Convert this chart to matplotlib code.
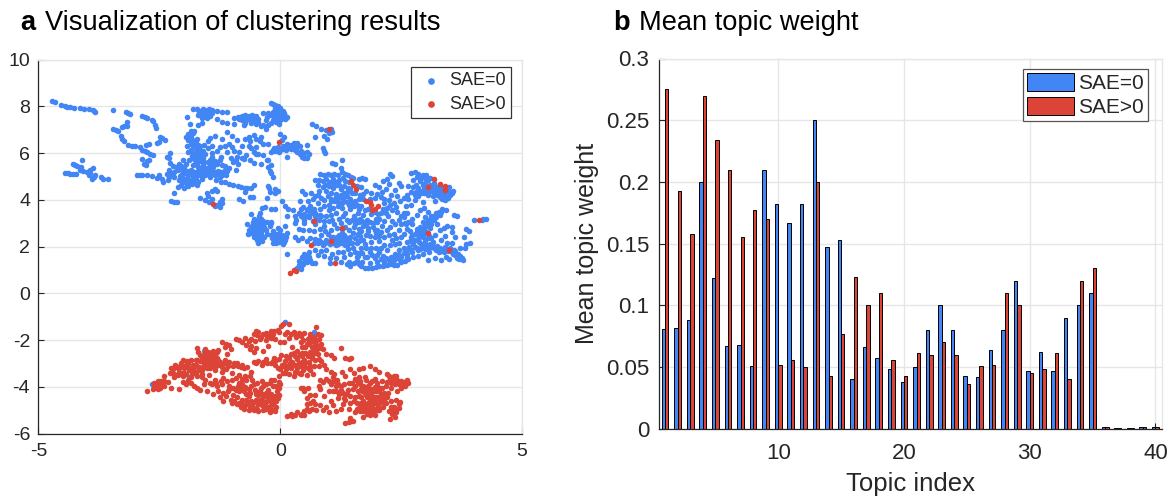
import numpy as np
import matplotlib
matplotlib.use('Agg')
import matplotlib.pyplot as plt

plt.rcParams['font.family'] = ['Liberation Sans', 'DejaVu Sans']
plt.rcParams['axes.unicode_minus'] = False

# topic weights
topics = list(range(1, 41))
weight_sae0 = [.081, .082, .088, .2, .122, .067, .068, .051, .21, .182,
               .167, .182, .25, .147, .153, .04, .066, .057, .048, .038,
               .05, .08, .1, .08, .043, .042, .064, .08, .12, .047,
               .062, .047, .09, .1, .11, .001, .0005, .0008, .001, .001]
weight_sae1 = [.275, .193, .158, .27, .234, .21, .155, .177, .17, .052,
               .056, .05, .2, .043, .077, .123, .1, .11, .056, .043,
               .061, .06, .07, .06, .036, .051, .052, .11, .1, .045,
               .048, .061, .04, .12, .13, .001, .0005, .0008, .001, .001]

# scatter points
pts_trail = [(-4.71,8.23),(-4.66,8.2),(-4.53,8.07),(-4.46,8.03),(-4.41,7.98),(-4.35,7.96),(-4.26,7.94),(-4.13,7.94),(-4.05,7.91),
    (-3.95,7.89),(-3.88,7.83),(-3.82,7.74),(-3.85,7.8),(-3.46,7.83),(-3.18,7.77),(-3.11,7.69),(-3.14,7.72),(-2.86,7.57),(-2.8,7.55),(-2.75,7.52),
    (-2.63,7.36),(-2.59,7.22),(-2.57,7.09),(-2.66,7.42),(-3.46,7.05),(-3.4,6.98),(-3.35,6.93),(-3.28,7.12),(-3.17,7.17),(-3.17,7.34),(-3.22,7.15),
    (-3.3,6.72),(-3.23,6.5),(-3.27,6.6),(-3.14,6.36),(-3.07,6.32),(-3.0,6.29),(-2.89,6.26),(-2.77,6.36),(-2.71,6.38),(-2.86,6.15),(-2.8,6.1),(-2.75,6.03),
    (-2.64,5.93),(-2.7,5.98),(-2.55,6.43),(-2.5,6.48),(-2.48,6.69),(-2.39,6.58),(-2.44,6.64),(-2.86,5.75),(-2.82,5.55),(-2.78,5.5),(-2.71,5.69),(-2.76,5.65),
    (-4.44,5.14),(-4.38,5.13),(-4.35,5.12),(-4.28,5.1),(-4.23,5.11),(-4.28,5.55),(-4.24,5.5),(-4.21,5.44),(-4.1,5.69),(-4.14,5.29),(-4.07,5.22),(-4.12,5.4),
    (-4.0,5.18),(-3.88,5.36),(-3.94,5.3),(-3.93,5.15),(-3.86,5.0),(-3.89,4.91),(-3.95,5.05),(-3.71,5.0),(-3.67,4.89),(-3.56,4.89),(-3.82,5.08),
    (-2.96,5.08),(-2.9,5.08),(-2.85,5.07),(-2.75,5.05),(-2.65,5.02),(-2.55,4.95),(-2.45,4.9),(-2.5,5.05),(-2.35,5.1),(-2.3,5.0),(-2.25,5.1),(-2.2,5.0),
    (-2.42,4.75),(-2.33,4.85),(-2.12,4.55),(-2.2,4.3),(-2.25,3.95),(-2.19,3.92),(-2.14,3.9)]
pts_left_mass = [(-2.2,5.2),(-2.15,5.4),(-2.1,5.55),(-2.05,5.45),(-2.0,5.3),(-1.95,5.15),(-1.9,5.05),(-2.0,4.95),(-2.1,4.85),(-1.95,4.75),(-2.05,4.65),(-1.9,4.6),
    (-1.85,4.85),(-1.8,5.0),(-1.75,5.2),(-1.7,5.4),(-1.8,5.5),(-1.85,5.3),(-1.75,4.9),(-1.7,4.75),(-1.65,5.05),(-1.6,5.2),(-1.55,5.05),(-1.5,5.1),(-1.45,5.0),
    (-1.4,5.15),(-1.35,5.05),(-1.3,5.1),(-1.25,5.0),(-1.2,5.05),(-1.15,5.15),(-1.1,5.25),(-1.05,5.35),(-1.15,5.45),(-1.9,6.8),(-1.85,6.7),(-1.8,6.85),(-1.9,6.55),
    (-1.85,6.4),(-1.8,6.3),(-1.85,6.15),(-1.9,6.05),(-1.75,6.2),(-1.7,6.35),(-1.65,6.3),(-1.6,6.1),(-1.55,5.95),(-1.6,5.8),(-1.65,5.65),(-1.7,5.85),(-1.75,5.6),
    (-1.6,5.5),(-1.55,5.35),(-1.5,5.6),(-1.45,5.7),(-1.4,5.85),(-1.35,5.65),(-1.3,5.55),(-1.25,5.7),(-1.2,5.5),(-1.15,5.3),(-1.4,6.0),(-1.3,6.1),(-1.45,6.65),(-1.5,6.5),
    (-1.35,6.75),(-1.2,6.6),(-1.05,6.4),(-1.0,6.25),(-0.95,6.1),(-0.85,6.05),(-0.9,5.85),(-0.8,5.8),(-0.75,5.75),(-0.7,5.9),(-0.65,6.3),(-0.55,6.05),(-0.5,5.95),(-0.45,5.95),
    (-1.72,6.6),(-1.95,6.7),(-1.78,6.95),(-1.85,6.95),(-1.92,6.3),(-1.68,6.05),(-1.58,6.35),(-1.5,6.2),(-1.42,6.3),(-1.25,6.25),(-1.15,6.3),(-1.1,6.05),(-1.02,5.8),(-0.98,5.6),
    (-0.92,5.3),(-0.88,5.55),(-1.22,5.85),(-0.92,5.7),(-2.3,5.3),(-2.28,5.58),(-2.35,5.85),(-2.28,6.0),(-2.3,5.78),(-2.22,5.45),(-1.95,5.55),(-1.88,5.7),(-2.0,5.7),(-1.98,4.5),
    (-2.02,4.75),(-1.92,4.9),(-1.82,4.7),(-1.72,4.65),(-1.62,4.9),(-1.32,4.85),(-1.22,4.78),(-1.15,4.75),(-1.05,4.7),(-0.98,4.65),(-0.88,4.6),(-0.82,4.55),(-0.72,4.5),(-0.6,4.5),
    (-0.55,4.65),(-0.72,4.35),(-0.56,4.12),(-0.62,4.12),(-0.76,3.95),(-0.85,4.05),(-0.68,4.5),(-1.35,4.45),(-1.4,4.4),(-1.52,4.3),(-1.5,4.15),(-1.42,4.05),(-1.3,4.38),
    (-1.65,4.1),(-1.55,4.0),(-1.48,3.9),(-1.35,3.72),(-1.3,3.78),(-1.25,3.92),(-1.2,3.85),(-1.25,3.7),(-1.2,4.02),
    (-1.8,7.9),(-1.72,7.88),(-1.6,7.9),(-1.55,7.85),(-1.68,7.75),(-1.6,7.75),(-1.5,7.7),(-1.55,7.6),(-1.45,7.6),(-1.3,7.8),(-1.2,7.78),(-1.1,7.75),(-1.3,7.45),(-1.2,7.35),
    (-1.1,7.3),(-1.4,7.85),(-1.62,7.6),(-1.52,7.5),(-1.92,7.55),(-1.87,7.25),(-1.9,6.7),(-1.7,7.22),(-1.62,7.3),(-0.95,7.5),(-0.85,7.45),(-0.8,7.6),(-0.75,7.5),(-0.7,7.55),
    (-0.65,7.6),(-0.6,7.55),(-0.55,7.5),(-0.5,7.6),(-0.6,7.3),(-0.5,7.25),(-0.45,7.35),(-0.4,7.15),(-0.35,7.2),(-0.3,7.05),(-0.25,7.2),(-0.35,7.7),(-0.25,7.7),(-0.15,7.75),
    (-0.1,7.85),(-0.05,8.0),(-0.15,8.1),(-0.1,8.05),(-0.18,8.14),(0.0,7.95),(0.05,7.8),(0.1,7.6),(0.15,7.55),(0.1,7.45),(0.05,7.5),(0.0,7.4),(-0.05,7.6),(-0.1,7.65),
    (-0.15,7.4),(-0.2,7.3),(-0.3,7.4),(-0.02,7.7),(0.08,7.72),(-0.1,7.52),(-0.02,7.25),(-0.75,7.22),(-0.95,7.25),(-0.88,7.55),(-0.72,7.62),(-0.72,7.3),(-0.62,7.42),(-0.45,7.45),
    (-0.72,6.62),(-0.65,6.7),(-0.55,6.78),(-0.5,6.6),(-0.42,6.5),(-0.35,6.38),(-0.4,6.68),(-0.25,6.38),(-0.62,6.5),(-1.1,6.9),(-1.0,6.75),(-0.9,6.55),(-0.78,6.3),(-0.6,6.2),
    (-0.5,6.28),(-0.28,5.7),(-0.35,5.9),(-0.55,5.58),(-0.4,5.55),(-0.62,5.7)]
pts_top_mid = [(-0.2,6.05),(-0.15,6.15),(-0.1,6.1),(-0.05,6.25),(0.0,6.15),(0.05,6.3),(0.1,6.2),(0.15,6.4),(0.2,6.25),(0.25,6.35),(0.3,6.3),(0.35,6.45),(0.4,6.3),(0.3,6.15),
    (0.35,6.05),(0.4,5.95),(0.45,5.85),(0.5,5.8),(0.55,5.8),(0.5,6.0),(0.55,6.05),(0.6,5.95),(0.55,6.35),(0.15,5.85),(0.0,6.8),(0.08,6.7),(0.03,6.55),
    (-0.25,5.7),(-0.2,5.5),(-0.25,5.4),(-0.22,5.25),(-0.2,5.15),(-0.15,5.0),(-0.25,4.6),(-0.22,4.35),(-0.1,4.3),(-0.27,4.1),(-0.05,4.4),(-0.1,4.45),(-0.24,4.5),
    (0.65,7.25),(0.75,7.15),(0.85,7.05),(0.95,7.0),(1.05,7.02),(1.08,6.9),(1.0,6.88),(0.9,6.75),(0.72,6.7),(0.97,6.6),(0.9,6.1),(0.88,6.2),(0.92,6.0)]
pts_blob = [(-0.68,2.95),(-0.65,2.7),(-0.67,2.55),(-0.6,3.4),(-0.55,3.2),(-0.5,3.0),(-0.5,2.75),(-0.55,2.5),(-0.48,2.3),(-0.45,2.15),(-0.42,2.8),(-0.4,2.55),(-0.4,3.2),(-0.35,2.95),
    (-0.33,2.4),(-0.3,2.7),(-0.58,2.9),(-0.52,2.62),(-0.47,2.45),(-0.43,3.3),(-0.38,2.25),(-0.28,3.05),(-0.42,3.45),(-0.38,3.65),(-0.32,3.7),(-0.55,2.4),(-0.46,2.9),
    (-0.2,2.5),(-0.15,2.65),(-0.1,2.45),(-0.12,2.25),(-0.05,2.35),(-0.02,2.55),(0.03,2.25),(0.08,2.45),(0.05,2.1),(-0.08,2.15),(-0.16,2.35),(0.1,2.3),(0.14,2.6),(-0.05,2.8),(0.1,2.88),
    (0.0,2.7),(-0.22,2.88),(-0.18,3.0),(-0.2,3.05),(-0.18,3.6),(-0.1,3.62),(0.03,3.95),(0.1,3.75),(0.17,3.6),(0.27,3.55),(0.3,3.3),(0.15,3.3),(0.3,2.4),(0.37,2.3),(0.45,2.35),(0.15,1.7)]
pts_main = [(.82,5.1),(.9,5.05),(.98,5.1),(1.05,5.08),(1.12,5.12),(1.2,5.05),(1.27,5.2),(1.33,5.1),(1.4,5.05),(1.47,5.0),(1.5,4.95),(1.7,4.95),(1.75,4.9),(1.62,4.9),
    (1.07,5.58),(1.14,5.55),(1.27,5.72),(1.25,5.36),(.8,4.85),(.88,4.8),(.95,4.9),(1.0,4.75),(1.1,4.9),(1.15,4.75),(1.22,4.85),(1.3,4.95),(1.35,4.8),(1.42,4.75),
    (1.0,4.6),(.95,4.4),(1.1,4.5),(1.18,4.62),(1.25,4.45),(1.32,4.6),(1.4,4.5),(1.48,4.3),(1.05,4.3),(1.15,4.25),(1.25,4.2),(1.32,4.3),(.46,4.37),(.52,4.25),(.64,4.3),(.71,4.15),(.85,4.1),
    (.9,4.0),(.98,4.15),(1.05,4.05),(1.12,3.95),(1.2,4.1),(1.3,4.02),(1.38,3.9),(1.45,4.05),(1.55,3.95),(1.65,4.2),(1.72,4.25),(1.78,4.4),(1.88,4.3),(1.95,4.65),(2.05,4.55),(2.1,4.35),(2.0,4.25),
    (2.15,4.05),(2.25,4.0),(2.3,4.2),(2.25,4.7),(1.85,4.05),(2.35,3.85),(2.4,3.7),(2.32,3.55),(2.2,3.65),(2.42,3.5),(2.55,3.45),(.4,3.95),(.48,3.7),(.55,3.55),(.62,3.75),(.7,3.6),(.78,3.85),
    (.42,3.3),(.5,3.4),(.6,3.25),(.68,3.45),(.75,3.2),(.82,3.35),(.9,3.1),(1.0,3.55),(1.1,3.65),(1.2,3.75),(1.28,3.65),(1.35,3.45),(1.45,3.6),(1.52,3.3),(1.6,3.45),(1.65,3.2),(1.72,3.35),
    (1.8,3.15),(1.88,3.4),(1.98,3.2),(2.08,3.45),(2.15,3.1),(2.22,3.3),(.3,3.0),(.5,3.02),(.72,2.95),(.9,2.9),(1.0,3.1),(1.12,2.95),(1.25,3.0),(1.35,2.85),(1.42,3.05),(1.55,2.95),(1.62,2.75),
    (1.72,2.9),(1.82,2.65),(1.92,2.85),(2.0,2.7),(2.1,2.9),(2.2,2.7),(2.28,2.85),(2.35,2.55),(2.5,2.95),(2.62,2.75),(2.45,3.15),(2.65,3.05),(2.72,3.2),(.62,2.35),(.7,2.15),(.8,2.3),
    (.88,2.05),(.95,2.3),(1.02,2.1),(1.1,2.4),(1.18,2.25),(1.22,2.5),(1.28,2.15),(1.35,2.4),(1.42,2.3),(1.5,2.6),(1.58,2.15),(1.65,2.45),(1.72,2.3),(1.78,2.5),(1.88,2.2),(1.95,2.4),(2.05,2.25),
    (1.15,2.3),(1.2,2.1),(1.3,2.35),(1.38,2.2),(.55,2.25),(.5,1.7),(.45,1.55),(.42,1.3),(.35,1.1),(.38,1.2),(.52,1.45),(.6,1.75),(.65,1.3),(.72,1.3),(.6,1.55),(.85,1.8),(.9,1.6),(1.02,1.5),
    (1.03,1.3),(1.15,1.5),(1.2,1.78),(1.3,1.78),(1.45,1.7),(1.5,1.95),(1.42,1.35),(1.45,1.15),(1.52,1.3),(1.58,1.55),(1.62,1.25),(1.55,1.75),(1.68,1.15),(1.75,1.1),(1.82,1.08),(1.9,1.1),
    (1.98,1.12),(2.05,1.15),(2.12,1.15),(2.2,1.2),(2.28,1.25),(2.35,1.2),(2.42,1.22),(2.5,1.32),(2.58,1.4),(2.65,1.45),(2.75,1.55),(2.85,1.6),(2.95,1.7),(1.75,1.55),(1.85,1.75),(1.95,1.5),
    (2.05,1.75),(2.12,1.6),(2.2,1.85),(2.3,1.55),(2.38,1.7),(2.45,1.85),(2.5,1.55),(2.55,1.95),(2.62,1.7),(2.7,1.85),(2.78,2.0),(2.85,1.85),(2.92,2.1),(3.0,1.9),(3.08,1.75),(3.15,2.0),
    (3.22,1.85),(3.3,1.95),(3.38,1.75),(3.45,1.9),(3.55,1.75),(3.62,1.62),(3.7,1.48),(3.78,1.42),(3.6,1.85),(3.72,1.95),(3.65,1.52),(3.05,1.42),(3.2,1.5),(3.32,1.42),(3.42,1.55),(3.5,1.48),
    (3.85,2.1),(3.92,2.15),(3.82,1.95),(3.8,2.4),(3.9,2.65),(3.84,2.75),(2.62,2.2),(2.7,2.4),(2.78,2.3),(2.85,2.5),(2.92,2.65),(2.82,2.75),(2.9,2.85),(2.98,2.55),(3.0,2.95),(3.05,3.15),
    (2.95,3.05),(3.1,2.8),(3.12,3.3),(3.18,3.15),(3.22,3.45),(3.3,3.35),(3.35,3.6),(3.42,3.55),(3.2,2.5),(3.32,2.3),(3.4,2.45),(3.55,2.15),(3.05,2.35),(3.15,2.2),(3.45,2.15),(2.55,2.55),
    (3.05,3.5),(3.0,3.25),(3.6,3.35),(3.66,3.3),(2.95,3.9),(3.2,3.95),(2.6,3.75),(2.7,3.8),(2.55,3.25),
    (2.7,5.15),(2.78,5.18),(2.85,5.12),(2.95,5.08),(3.02,5.05),(3.1,4.95),(2.75,4.85),(2.65,4.6),(2.8,4.65),(2.7,4.35),(2.78,4.2),(2.9,4.4),(2.98,4.3),(3.05,4.2),(3.12,4.45),(3.2,4.3),
    (3.25,4.55),(3.3,4.35),(3.38,4.25),(3.45,4.5),(3.52,4.35),(3.58,4.4),(3.52,4.2),(3.42,4.05),(3.48,4.1),(3.3,4.6),(3.1,4.65),(2.95,4.65),(3.18,4.72),(3.05,4.85),(2.62,4.2),(2.65,4.02),
    (2.78,3.98),(2.85,4.15),(3.15,4.15),(2.45,4.72),(2.32,5.02),(2.28,5.1),(2.5,4.6),(2.95,5.02),(3.4,4.0),(3.5,4.55)]
# second pass over the dense parts of the upper cloud
pts_dense_sae0 = [(-2.12,5.3),(-2.03,5.1),(-1.98,5.42),(-1.92,5.25),(-1.87,5.12),(-1.82,5.25),(-1.78,5.12),(-1.72,5.08),(-1.68,5.28),(-1.62,5.35),(-1.58,5.08),(-1.52,5.22),(-1.47,5.15),(-1.42,5.28),(-1.35,5.2),
    (-1.28,5.22),(-1.22,5.18),(-1.12,5.05),(-2.08,5.02),(-1.98,4.85),(-1.88,4.75),(-1.78,4.8),(-1.92,4.68),(-1.82,6.05),(-1.75,5.95),(-1.72,6.12),(-1.65,5.92),(-1.78,6.5),(-1.82,6.58),(-1.75,6.42),(-1.68,6.2),(-1.62,5.75),
    (-1.58,5.62),(-1.48,5.42),(-1.42,5.52),(-1.38,5.42),(-1.78,5.75),(-1.83,5.88),(-1.72,5.5),(-1.68,5.15),(-1.55,7.78),(-1.65,7.82),(-1.7,7.65),(-1.62,7.5),(-1.5,7.82),(-1.48,7.9),(-1.58,7.68),(-1.42,7.72),
    (-0.1,7.95),(-0.02,7.85),(0.02,7.72),(0.08,7.62),(-0.05,7.42),(0.02,7.55),(-0.12,7.78),(-0.2,7.62),(-0.28,7.55),(0.12,7.52),(-0.08,7.32),(-0.68,7.45),(-0.58,7.65),(-0.52,7.42),(-0.78,7.42),
    (-0.12,6.2),(-0.02,6.05),(0.05,6.18),(0.12,6.12),(0.18,6.35),(0.22,6.18),(0.28,6.42),(0.32,6.22),(0.42,6.08),(0.48,5.9),
    (-0.6,2.85),(-0.56,3.05),(-0.62,2.6),(-0.58,2.65),(-0.52,2.85),(-0.47,2.65),(-0.42,2.35),(-0.38,2.7),(-0.42,3.05),(-0.36,3.1),(-0.48,3.15),(-0.33,2.85),(-0.28,2.55),(-0.46,2.55),
    (-0.15,2.45),(-0.08,2.55),(-0.1,2.35),(-0.02,2.2),(0.0,2.4),(0.04,2.5),(0.12,2.42),(-0.14,2.15),(0.02,2.32),(-0.06,2.25),(0.08,2.2),
    (.85,3.3),(.75,3.35),(.68,3.1),(.62,3.45),(.55,3.3),(.48,3.25),(.58,3.6),(.65,3.6),(.72,3.45),(.8,3.15),(.42,3.6),(.5,3.15),
    (1.05,3.95),(1.15,4.12),(1.2,3.9),(1.28,3.85),(1.32,4.12),(1.38,4.15),(1.42,3.78),(1.48,3.85),(1.52,3.72),(1.58,3.8),(1.62,3.62),(1.68,3.72),(1.75,3.55),(1.82,3.6),(1.48,3.15),(1.55,3.2),(1.62,3.05),(1.7,3.1),
    (1.78,2.95),(1.85,3.05),(1.92,3.0),(2.0,3.05),(2.05,3.2),(1.95,3.5),(2.02,3.4),(2.12,3.6),(2.18,3.45),(1.6,2.55),(1.52,2.85),(1.42,2.7),(1.68,2.65),(1.85,2.45),(1.98,2.6),(2.05,2.45),
    (1.08,2.2),(1.12,2.35),(1.18,2.4),(1.22,2.28),(1.25,2.4),(1.3,2.22),(1.32,2.48),(1.4,2.12),(1.45,2.42),(1.1,2.15),(1.28,2.6),(1.05,2.4),(.98,2.2),(.92,2.15),(.85,2.2),(.78,2.15),(.72,2.32),
    (.55,1.55),(.5,1.35),(.45,1.2),(.42,1.05),(.48,1.25),(.55,1.35),(.38,1.38),(.58,1.65),(.62,1.42),(.32,1.05),
    (2.6,1.85),(2.66,2.0),(2.72,1.75),(2.75,2.1),(2.82,1.95),(2.88,2.2),(2.9,1.9),(2.95,2.0),(3.02,2.05),(3.08,1.95),(3.1,2.1),(3.18,1.92),(3.25,2.02),(3.28,1.78),(3.35,1.85),(3.4,2.0),(3.48,1.82),(3.52,1.95),(3.58,1.68),
    (3.62,1.8),(3.68,1.7),(3.72,1.58),(3.76,1.5),(2.4,1.5),(2.45,1.65),(2.55,1.72),(2.35,1.42),(2.3,1.35),(2.48,1.42),(2.62,1.55),
    (2.68,2.25),(2.72,2.5),(2.78,2.55),(2.82,2.62),(2.86,2.4),(2.9,2.5),(2.92,2.8),(2.95,2.72),(2.98,2.85),(3.0,2.68),(3.02,3.0),(3.05,2.9),(3.08,3.05),(3.1,3.12),(3.12,2.95),(3.15,3.22),(3.18,3.32),(3.22,3.25),
    (3.25,3.38),(3.28,3.5),(3.32,3.48),(2.95,2.4),(3.0,2.25),(3.08,2.45),(3.12,2.35),(2.85,2.3),
    (2.8,4.35),(2.85,4.5),(2.92,4.28),(2.98,4.45),(3.02,4.35),(3.08,4.35),(3.1,4.55),(3.15,4.38),(3.18,4.5),(3.22,4.42),(3.25,4.22),(3.28,4.45),(3.35,4.5),(3.38,4.38),(3.42,4.3),(3.42,4.42),(3.48,4.4),(3.48,4.25),(3.55,4.3),(3.3,4.12),
    (3.35,4.05),(2.88,4.28),(2.75,4.55),(2.9,4.8),(3.0,4.95),(3.0,4.72),(2.82,5.0),(2.92,4.92),(3.25,4.38),(3.4,4.15)]
# third pass, the looser stretches of the lower right cloud
pts_fill_sae0 = [(.58,3.95),(.68,4.05),(.78,4.2),(.72,3.3),(.38,3.45),(.32,3.15),(.95,3.3),(1.05,3.35),(1.15,3.45),(1.22,3.2),(1.3,3.3),(1.38,3.15),(1.08,3.15),(1.18,2.8),(1.28,2.75),(1.05,2.7),(.92,2.65),(.82,2.75),(.7,2.65),(.6,2.7),(.48,2.7),
    (.38,2.75),(1.0,3.8),(.9,3.75),(.82,3.6),(1.45,4.45),(1.55,4.3),(1.62,4.05),(1.72,4.05),(1.95,4.1),(2.08,4.12),(2.15,3.88),(2.28,3.78),(1.82,2.8),(1.95,2.72),(2.08,2.62),(2.15,2.4),(2.25,2.5),(2.32,2.3),(2.4,2.35),(2.45,2.15),(2.5,2.4),(2.38,2.1),
    (2.28,2.05),(2.15,2.05),(2.08,1.95),(1.98,1.95),(1.88,1.95),(1.78,1.95),(1.68,1.95),(1.62,1.72),(1.7,1.72),(1.8,1.55),(1.9,1.62),(2.0,1.62),(2.08,1.45),(2.18,1.5),(2.25,1.42),(2.15,1.32),(2.0,1.32),(1.85,1.3),(1.7,1.35),(1.58,1.4),
    (2.6,2.95),(2.72,2.95),(2.68,2.65),(2.58,3.0),(2.45,2.72),(2.38,2.95),(2.32,3.1),(2.5,3.3),(2.62,3.45),(3.3,2.7),(3.38,2.8),(3.45,2.9),(3.55,2.62),(3.62,2.4),(3.55,2.85),(3.25,2.95),(.78,1.65),(.72,1.85),(.95,1.85),(1.08,1.7),(.85,2.5),(.98,2.55),
    (1.15,2.05),(1.35,2.05),(1.48,2.15),(1.62,2.25),(1.75,2.12),(1.55,2.38),(1.4,1.9),(1.32,1.55),(1.25,1.35),(1.38,1.25),(1.6,1.6),(2.9,3.55),(2.82,3.35),(2.98,3.65),(2.48,3.95),(2.55,4.08),(2.42,4.15),(2.38,4.42),(2.18,4.45),(2.2,4.9),(2.12,4.8),
    (.72,4.85),(.78,4.62),(.88,4.55),(.8,4.4),(.92,4.65),(1.08,4.7),(1.22,4.65),(1.38,4.35),(1.58,4.6),(1.68,4.55)]
pts_sae1_top = [(1.01,7.03),(-0.02,6.49),(-1.39,3.83),(1.46,4.81),(1.51,4.64),(1.56,4.47),(1.78,3.97),(1.86,3.9),(1.88,3.77),(2.03,3.75),(1.89,3.58),(1.96,3.6),
    (3.05,4.54),(3.17,4.88),(3.3,4.7),(3.4,4.61),(3.4,4.44),(0.69,3.1),(1.28,2.81),(1.06,2.23),(0.63,2.06),(0.29,0.98),(0.2,0.89),(0.32,0.95),(1.14,1.28),(3.05,2.59),(3.5,1.87),(4.12,3.14)]
pts_sae0_low = [(0.09,-1.21),(0.7,-1.65),(1.56,-3.73),(-1.57,-2.45),(-1.88,-3.57),(-2.65,-3.86)]
pts_sae0_far = [(4.0,3.15),(4.2,3.2),(4.25,3.2),(4.18,3.15)]
pts_sae1_low = [(-2.76,-4.18),(-2.64,-4.11),(-2.53,-4.09),(-2.5,-3.9),(-2.6,-3.83),(-2.57,-3.97),(-2.46,-3.76),(-2.41,-3.55),(-2.32,-3.8),(-2.25,-4.04),(-2.09,-4.09),(-2.41,-3.97),(-2.55,-4.03),
    (-2.28,-3.4),(-2.22,-3.25),(-2.15,-3.1),(-2.1,-3.35),(-2.05,-3.0),(-2.02,-3.55),(-1.98,-3.2),(-1.92,-2.9),(-1.88,-3.3),(-1.85,-3.6),(-1.8,-3.05),(-1.75,-2.85),(-1.72,-2.35),(-1.68,-3.3),
    (-1.65,-2.65),(-1.6,-2.95),(-1.55,-2.55),(-1.52,-3.2),(-1.48,-2.8),(-1.45,-2.6),(-1.42,-3.0),(-1.38,-2.45),(-1.35,-3.3),(-1.3,-2.75),(-1.28,-2.42),(-1.25,-2.95),(-1.2,-3.15),(-1.62,-3.45),
    (-1.72,-3.55),(-1.95,-3.45),(-2.2,-3.45),(-2.12,-3.2),(-1.78,-3.32),(-1.52,-2.65),(-1.4,-2.75),(-1.42,-2.52),(-1.32,-3.1),(-1.55,-3.1),(-1.1,-2.6),(-1.2,-3.35),
    (-1.15,-2.85),(-1.05,-2.95),(-0.98,-3.1),(-0.9,-3.0),(-0.82,-3.15),(-0.75,-3.2),(-0.68,-3.15),(-0.6,-3.35),(-1.12,-3.25),(-1.0,-3.4),
    (-1.18,-3.62),(-1.1,-3.75),(-1.2,-3.9),(-1.05,-3.95),(-1.0,-3.7),(-0.92,-3.62),(-0.85,-3.85),(-0.78,-3.65),(-0.72,-3.55),(-1.85,-3.85),(-1.78,-3.95),(-1.72,-4.05),(-1.65,-4.15),(-1.58,-3.9),(-1.52,-4.2),
    (-1.45,-3.85),(-1.38,-4.3),(-1.3,-3.95),(-1.25,-4.45),(-1.35,-3.7),(-1.18,-4.6),(-1.08,-4.2),(-1.0,-4.7),(-0.98,-4.05),(-0.9,-4.45),(-0.82,-4.85),(-0.75,-4.2),(-0.7,-4.55),(-0.62,-4.9),(-0.55,-3.9),
    (-0.5,-4.3),(-0.45,-4.75),(-0.4,-4.05),(-0.35,-4.45),(-0.3,-4.95),(-0.25,-4.15),(-0.2,-4.6),(-0.15,-3.95),(-0.1,-4.4),(-0.08,-4.85),(-0.03,-4.05),(0.0,-3.9),(-0.65,-4.1),(-0.55,-4.65),(-0.45,-4.35),
    (-0.38,-3.75),(-0.3,-3.9),(-0.22,-3.85),(-0.12,-3.7),(-0.06,-4.2),(-0.6,-3.95),(-0.85,-4.2),(-0.8,-4.55),(-0.95,-4.6),(-0.72,-4.8),(-0.5,-4.9),(-0.38,-4.8),(-0.28,-4.6),(-0.18,-4.95),(-0.1,-5.05),
    (-0.35,-5.0),(-0.55,-5.0),(-0.65,-4.4),(-0.2,-4.3),(-0.12,-4.65),(-0.42,-4.55),
    (-1.2,-2.1),(-1.12,-2.15),(-1.05,-2.2),(-1.15,-2.3),(-1.02,-2.4),(-0.92,-1.95),(-0.85,-2.0),(-0.8,-2.1),(-0.72,-1.9),(-0.65,-2.05),(-0.6,-2.25),(-0.55,-1.75),(-0.5,-2.35),(-0.45,-1.65),
    (-0.4,-1.85),(-0.35,-2.45),(-0.3,-1.7),(-0.22,-1.7),(-0.15,-1.75),(-0.1,-1.95),(-0.05,-1.55),(0.0,-2.1),(0.02,-1.4),(0.05,-1.3),(0.15,-1.65),(0.18,-1.9),(0.18,-1.32),(0.28,-1.65),(0.32,-1.85),(0.38,-1.7),(0.42,-2.1),
    (0.5,-1.7),(0.55,-2.15),(0.6,-1.9),(0.65,-2.3),(0.7,-1.85),(0.75,-2.05),(0.73,-1.45),(0.8,-2.35),(0.85,-1.8),(0.85,-2.15),(0.78,-2.6),(0.88,-2.4),(0.95,-2.6),(1.05,-2.65),(1.12,-2.78),(1.25,-2.35),
    (1.35,-2.78),(1.42,-2.8),(1.47,-2.78),(-0.7,-2.2),(-0.62,-2.4),(-0.55,-2.5),(0.08,-2.1),(0.25,-2.3),(0.35,-2.45),(0.45,-2.55),(0.55,-2.6),
    (-0.55,-2.95),(-0.45,-2.9),(-0.38,-3.05),(-0.3,-2.8),(-0.2,-3.0),(-0.12,-2.75),(-0.02,-2.8),(0.03,-3.05),(0.12,-2.7),(0.2,-3.0),(0.28,-2.55),(0.35,-2.8),(0.42,-3.1),(0.5,-2.85),(0.58,-3.2),(0.65,-2.75),
    (0.7,-3.1),(0.75,-2.45),(0.62,-2.5),(0.8,-3.1),(0.68,-3.45),(0.55,-3.5),(0.42,-3.45),(0.3,-3.35),(0.28,-3.55),(0.12,-3.25),(0.18,-3.45),(0.05,-3.4),(-0.02,-3.55),(-0.05,-3.2),(0.35,-3.2),(0.5,-3.1),
    (0.85,-2.9),(0.9,-3.05),(0.95,-3.25),(0.25,-2.95),(0.45,-2.7),(0.6,-2.95),
    (1.05,-3.35),(1.12,-3.45),(1.18,-3.7),(1.28,-3.35),(1.35,-3.55),(1.45,-3.25),(1.52,-3.4),(1.62,-3.25),(1.72,-3.2),(1.85,-3.1),(1.95,-3.25),(2.05,-3.35),(2.2,-3.45),(2.35,-3.55),(2.35,-3.7),(2.5,-3.75),
    (2.62,-3.7),(2.65,-3.85),(2.58,-3.95),(2.5,-4.05),(2.42,-4.2),(2.38,-3.9),(2.3,-4.05),(2.22,-4.25),(2.18,-3.95),(2.1,-4.4),(0.5,-4.2),(0.62,-4.35),(0.58,-4.05),(0.72,-4.35),(0.68,-4.6),(0.62,-4.7),
    (0.55,-4.95),(0.5,-5.2),(0.42,-5.2),(0.3,-5.2),(0.22,-5.15),(0.15,-5.25),(0.82,-4.1),(0.82,-4.8),(0.95,-4.85),(0.88,-5.0),(1.0,-5.1),(0.9,-4.4),(1.0,-4.2),(0.75,-5.0),
    (0.8,-3.95),(0.82,-3.72),(0.88,-3.8),(0.95,-3.65),(1.0,-3.75),(1.05,-3.9),(1.1,-4.2),(1.15,-3.95),(1.2,-4.5),(1.25,-4.15),(1.32,-3.9),(1.3,-4.75),(1.38,-4.3),(1.42,-3.85),(1.45,-4.7),(1.5,-4.1),
    (1.55,-4.45),(1.6,-3.8),(1.62,-4.75),(1.68,-4.1),(1.72,-4.95),(1.75,-3.6),(1.8,-4.45),(1.85,-3.85),(1.88,-5.1),(1.92,-4.2),(1.95,-3.65),(1.98,-4.7),(2.02,-4.0),(2.05,-5.0),(2.1,-3.75),(2.12,-4.85),
    (2.15,-4.55),(2.2,-3.8),(2.25,-5.05),(2.3,-4.6),(2.35,-4.85),(2.4,-5.1),(2.38,-5.3),(2.28,-5.4),(2.45,-4.9),(2.4,-4.55),(1.75,-4.25),(1.82,-4.7),(1.9,-4.9),(1.95,-5.2),(1.8,-5.15),(1.72,-5.3),(1.65,-5.05),
    (1.72,-3.95),(1.88,-4.55),(1.78,-3.7),(1.68,-4.45),(2.0,-4.45),(2.08,-4.3),(2.02,-4.85),(1.92,-4.6),(1.85,-5.2),(1.58,-4.95),(1.55,-5.1),(1.42,-5.5),(1.35,-5.55),(1.5,-5.45),(1.45,-5.35),(1.42,-4.95),
    (1.35,-4.55),(1.25,-4.95),(1.15,-5.05),(1.05,-4.6),(1.1,-4.8),(-1.95,-3.9),(-2.02,-3.8),(-1.9,-3.72)]
# second pass over the solid parts of the lower cloud
pts_dense_sae1 = [(-2.55,-3.88),(-2.48,-4.05),(-2.45,-3.85),(-2.52,-3.75),(-2.4,-3.75),(-2.6,-4.0),(-2.25,-3.2),(-2.2,-3.6),(-2.18,-3.05),(-2.12,-3.5),(-2.08,-3.15),(-2.05,-3.4),(-2.0,-2.85),(-1.98,-3.4),(-1.95,-3.05),
    (-1.9,-3.15),(-1.85,-2.85),(-1.82,-3.45),(-1.8,-3.2),(-1.75,-3.05),(-1.72,-2.85),(-1.7,-3.15),(-1.65,-2.9),(-1.62,-2.75),(-1.6,-3.15),(-1.58,-2.7),(-1.55,-2.85),(-1.52,-2.95),(-1.5,-2.5),(-1.48,-3.05),(-1.45,-2.85),(-1.42,-2.75),
    (-1.4,-2.6),(-1.38,-2.9),(-1.35,-2.65),(-1.33,-3.0),(-1.3,-2.5),(-1.28,-2.85),(-1.62,-3.3),(-1.68,-3.15),(-1.9,-3.0),(-2.0,-3.15),(-1.75,-3.4),(-1.45,-3.2),(-1.38,-3.15),(-1.7,-2.5),(-1.55,-2.4),(-1.25,-3.05),(-1.15,-3.0),(-1.08,-3.1),
    (-0.95,-3.0),(-0.88,-3.12),(-0.78,-3.05),(-1.62,-3.6),(-1.55,-3.7),(-1.48,-3.5),(-1.42,-3.9),(-1.32,-3.85),(-1.22,-3.75),(-1.28,-4.2),(-1.18,-4.25),(-1.12,-4.4),(-1.05,-4.1),(-0.98,-4.35),(-0.92,-4.15),(-0.88,-3.95),(-0.82,-4.05),
    (-0.78,-3.9),(-0.72,-4.0),(-0.7,-4.3),(-0.62,-4.25),(-0.6,-4.6),(-0.58,-4.8),(-0.52,-4.15),(-0.5,-4.55),(-0.48,-4.95),(-0.42,-4.2),(-0.38,-4.3),(-0.35,-4.65),(-0.32,-4.8),(-0.3,-4.25),(-0.25,-4.45),(-0.25,-4.85),(-0.2,-4.8),(-0.15,-4.5),
    (-0.15,-4.75),(-0.12,-5.0),(-0.08,-4.6),(-0.05,-4.5),(-0.02,-4.35),(-0.85,-4.7),(-0.9,-4.75),(-0.78,-4.75),(-0.68,-4.72),(-1.02,-4.55),(-0.75,-4.95),(-0.65,-5.0),(-0.45,-5.02),(-0.22,-5.08),(-0.02,-3.8),(-0.2,-3.7),(-0.08,-3.95),(-0.35,-3.95),
    (-0.48,-3.85),(-0.58,-3.72),(-0.7,-3.7),(-0.62,-3.55),(-0.85,-3.5),
    (-0.02,-1.65),(-0.12,-1.62),(-0.2,-1.62),(-0.28,-1.82),(-0.35,-1.72),(-0.42,-1.95),(-0.48,-1.8),(-0.52,-2.02),(-0.5,-1.6),(-0.6,-1.95),(-0.3,-2.0),(-0.18,-1.9),(-0.25,-2.25),(0.1,-1.75),(0.22,-1.72),(0.3,-1.75),(0.42,-1.82),(0.48,-2.0),
    (0.58,-1.95),(0.62,-1.75),(0.68,-2.05),(0.72,-2.15),(0.65,-2.05),(0.75,-2.2),(0.8,-1.95),(0.7,-2.4),(0.72,-2.0),(0.78,-1.75),(0.6,-2.18),(0.52,-2.3),(0.45,-2.3),(0.4,-2.65),(0.3,-2.7),(0.22,-2.6),(0.18,-2.75),(0.1,-2.9),(0.02,-2.65),
    (0.08,-3.1),(0.15,-3.1),(0.22,-3.2),(0.3,-3.05),(0.38,-3.0),(0.45,-2.95),(0.52,-3.0),(0.62,-3.1),(0.62,-3.3),(0.48,-3.3),(0.38,-3.4),(0.22,-3.0),(0.1,-3.4),(0.0,-3.25),(0.72,-2.85),(0.8,-2.8),(0.58,-2.7),(0.68,-2.6),(0.52,-2.55),
    (-0.28,-3.0),(-0.35,-2.95),(-0.5,-3.0),(-0.1,-3.05),(-0.15,-2.9),(-0.08,-2.85),
    (1.55,-3.95),(1.6,-4.2),(1.62,-4.4),(1.65,-3.9),(1.7,-4.2),(1.72,-4.6),(1.75,-4.0),(1.75,-4.75),(1.78,-4.35),(1.8,-4.15),(1.8,-4.85),(1.82,-3.95),(1.85,-4.3),(1.85,-4.55),(1.85,-4.85),(1.88,-4.1),(1.9,-3.75),(1.9,-4.4),(1.92,-4.75),(1.95,-4.0),
    (1.95,-4.45),(1.98,-4.2),(2.0,-3.85),(2.0,-4.6),(2.02,-5.0),(2.05,-4.2),(2.05,-4.7),(2.08,-4.55),(2.1,-4.05),(2.12,-4.65),(2.15,-4.25),(2.18,-4.7),(2.2,-4.45),(1.68,-4.7),(1.7,-4.85),(1.62,-4.95),(1.72,-5.05),(1.85,-5.05),(1.95,-5.05),
    (1.98,-4.95),(1.78,-5.05),(1.88,-4.95),(1.58,-4.7),(1.52,-4.6),(1.45,-4.4),(1.4,-4.15),(1.3,-4.25),(1.22,-4.3),(1.15,-4.2),(1.25,-3.95),(1.32,-4.5),(1.12,-3.75),(1.1,-3.6),(1.2,-3.9),(1.55,-3.65),(1.62,-3.6),(1.48,-3.85),(1.65,-3.75),
    (2.25,-3.55),(2.3,-3.85),(2.42,-3.72),(2.45,-3.9),(2.5,-3.9),(2.55,-3.78),(2.58,-3.8),(2.28,-3.65),(2.4,-3.55),(2.38,-5.0),(2.4,-4.95),(2.35,-5.0),(2.3,-4.85),(2.32,-5.15),(2.45,-4.75),(2.48,-4.65),
    (0.72,-4.75),(0.65,-4.95),(0.6,-5.05),(0.55,-4.75),(0.5,-5.05),(0.45,-5.15),(0.35,-5.1),(0.25,-5.25),(0.55,-4.5),(0.42,-4.05),(0.48,-4.05)]

blue_pts = np.array(pts_trail + pts_left_mass + pts_top_mid + pts_blob + pts_main + pts_dense_sae0 + pts_fill_sae0 + pts_sae0_low + pts_sae0_far)
red_pts = np.array(pts_sae1_top + pts_sae1_low + pts_dense_sae1)

BLUE = '#4285F4'
RED = '#DB4437'
TXT = '#262626'
W, H = 1169, 497

fig = plt.figure(figsize=(W / 100, H / 100), dpi=100, facecolor='white')


def new_axes(x0, x1, y0, y1):
    # pixel box -> figure fraction
    ax = fig.add_axes([x0 / W, 1 - y1 / H, (x1 - x0) / W, (y1 - y0) / H])
    ax.set_axisbelow(True)
    ax.grid(True, color='#e6e6e6', lw=1.0)
    for s in ['left', 'bottom']:
        ax.spines[s].set_color('#262626')
        ax.spines[s].set_linewidth(0.9)
    for s in ['top', 'right']:
        ax.spines[s].set_color('#e6e6e6')
        ax.spines[s].set_linewidth(1.0)
    ax.tick_params(direction='in', length=4, width=0.8, color='#262626', labelcolor=TXT)
    return ax


# panel a
ax1 = new_axes(38.4, 522, 59.7, 433.5)
ax1.scatter(blue_pts[:, 0], blue_pts[:, 1], s=16, color=BLUE, lw=0, label='SAE=0')
ax1.scatter(red_pts[:, 0], red_pts[:, 1], s=16, color=RED, lw=0, label='SAE>0')
ax1.set_xlim(-5, 5)
ax1.set_ylim(-6, 10)
ax1.set_xticks([-5, 0, 5])
ax1.set_yticks([-6, -4, -2, 0, 2, 4, 6, 8, 10])
ax1.tick_params(labelsize=14, pad=7)
ax1.tick_params(axis='y', pad=6)
leg1 = ax1.legend(loc='upper left', bbox_to_anchor=((411 - 38.4) / 483.6, 1 - (67 - 59.7) / 373.8),
                  borderaxespad=0, fontsize=13, frameon=True, fancybox=False, framealpha=1,
                  edgecolor='#333333', labelspacing=0.35, handletextpad=0.2, borderpad=0.3, markerscale=1.2,
                  handlelength=1.6)
leg1.get_frame().set_linewidth(0.9)
for t in leg1.get_texts():
    t.set_color(TXT)

# panel b
ax2 = new_axes(658.8, 1161.7, 58.5, 428.7)
t = np.array(topics)
bw = 0.27
ax2.bar(t - bw / 2, weight_sae0, bw, color=BLUE, edgecolor='black', lw=0.7, label='SAE=0')
ax2.bar(t + bw / 2, weight_sae1, bw, color=RED, edgecolor='black', lw=0.7, label='SAE>0')
ax2.set_xlim(0.5, 40.5)
ax2.set_ylim(0, 0.3)
ax2.set_xticks([10, 20, 30, 40])
ax2.set_yticks([0, .05, .1, .15, .2, .25, .3])
ax2.set_yticklabels(['0', '0.05', '0.1', '0.15', '0.2', '0.25', '0.3'])
ax2.tick_params(axis='y', labelsize=16, pad=7)
ax2.tick_params(axis='x', labelsize=16, pad=10)
ax2.set_xlabel('Topic index', fontsize=18.5, color=TXT)
ax2.set_ylabel('Mean topic weight', fontsize=18, color=TXT)
ax2.xaxis.set_label_coords(0.5, -0.117)
ax2.yaxis.set_label_coords(-0.119, 0.5)
leg2 = ax2.legend(loc='upper left', bbox_to_anchor=((1022.7 - 658.8) / 502.9, 1 - (69.3 - 58.5) / 370.2),
                  borderaxespad=0, fontsize=15, frameon=True, fancybox=False, framealpha=1,
                  edgecolor='#555555', labelspacing=0.2, handletextpad=0.2, borderpad=0.2,
                  handlelength=2.25, handleheight=0.9)
leg2.get_frame().set_linewidth(0.9)
for t2 in leg2.get_texts():
    t2.set_color(TXT)

# panel headings
fig.text(20 / W, 1 - 30 / H, 'a', fontsize=19.6, fontweight='bold', color='black')
fig.text(45 / W, 1 - 30 / H, 'Visualization of clustering results', fontsize=19.6, color='black')
fig.text(613 / W, 1 - 30 / H, 'b', fontsize=19.6, fontweight='bold', color='black')
fig.text(639 / W, 1 - 30 / H, 'Mean topic weight', fontsize=19.6, color='black')

fig.savefig('out.png', dpi=100)
